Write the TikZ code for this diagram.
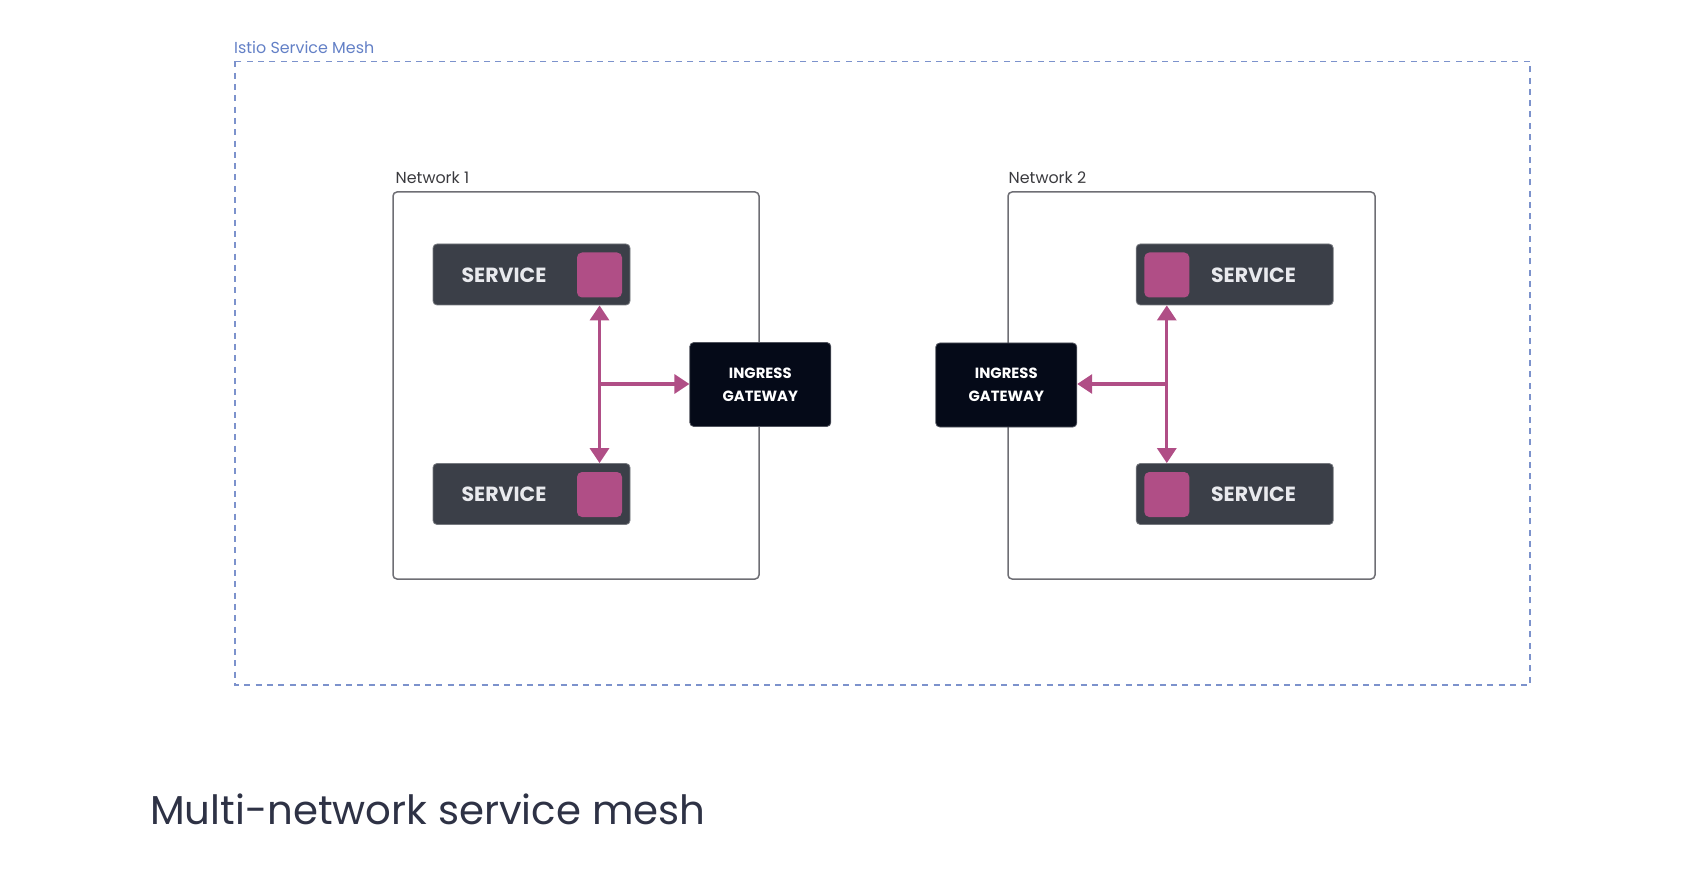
\documentclass[tikz,border=0pt]{standalone}
\usepackage{fontspec}
\setmainfont{Poppins}
\usetikzlibrary{arrows.meta}
\definecolor{meshblue}{HTML}{7C92CC}
\definecolor{meshtext}{HTML}{6380C6}
\definecolor{netgray}{HTML}{6E6E74}
\definecolor{labelgray}{HTML}{3A3A3E}
\definecolor{svcfill}{HTML}{3B3F48}
\definecolor{svctext}{HTML}{E9EAEE}
\definecolor{gwfill}{HTML}{050A18}
\definecolor{pink}{HTML}{B04E86}
\definecolor{captext}{HTML}{2E3245}
\tikzset{
  meshbox/.style={draw=meshblue, line width=1.3pt, dash pattern=on 6pt off 5.3pt},
  netbox/.style={draw=netgray, line width=1.5pt, rounded corners=4pt},
  svcbox/.style={fill=svcfill, draw=svcfill!70!white, line width=0.8pt, rounded corners=4pt, minimum width=197pt, minimum height=61pt, inner sep=0pt},
  svcsq/.style={fill=pink, rounded corners=5pt, minimum width=45pt, minimum height=45pt, inner sep=0pt},
  svclabel/.style={text=svctext, font=\fontsize{20.5}{24}\selectfont\bfseries, inner sep=0pt},
  gwbox/.style={fill=gwfill, draw=gwfill!70!white, line width=0.8pt, rounded corners=4pt, minimum width=141pt, minimum height=84pt, inner sep=0pt, text=white, align=center, font=\fontsize{14.8}{23}\selectfont\bfseries},
  grouplabel/.style={text=labelgray, font=\fontsize{15.9}{18}\selectfont, inner sep=0pt, anchor=base west},
  arr/.style={draw=pink, line width=3.2pt, -{Triangle[length=15pt,width=19pt]}}
}
\begin{document}
\begin{tikzpicture}[x=1pt,y=-1pt]
\useasboundingbox (0,0) rectangle (1708,882);
% mesh
\draw[meshbox] (235,61.5) rectangle (1530,685);
\node[text=meshtext, font=\fontsize{15.9}{18}\selectfont, inner sep=0pt, anchor=base west] (meshlabel) at (234,53.5) {Istio Service Mesh};
% networks
\draw[netbox] (393,192) rectangle (759,579);
\node[grouplabel] (net1label) at (395.5,184) {Network 1};
\draw[netbox] (1008,192) rectangle (1375,579);
\node[grouplabel] (net2label) at (1008.5,184) {Network 2};
% network 1 services
\node[svcbox] (s1) at (531.5,274.5) {};
\node[svcsq] (s1sq) at (599.5,275) {};
\node[svclabel] (s1t) at (504,275) {SERVICE};
\node[svcbox] (s2) at (531.5,494) {};
\node[svcsq] (s2sq) at (599.5,494.5) {};
\node[svclabel] (s2t) at (504,494.5) {SERVICE};
\node[gwbox] (g1) at (760.3,384.5) {INGRESS\\GATEWAY};
% network 2 services
\node[svcbox] (s3) at (1234.7,274.5) {};
\node[svcsq] (s3sq) at (1166.8,275) {};
\node[svclabel] (s3t) at (1253.5,275) {SERVICE};
\node[svcbox] (s4) at (1234.7,494) {};
\node[svcsq] (s4sq) at (1166.8,494.5) {};
\node[svclabel] (s4t) at (1253.5,494.5) {SERVICE};
\node[gwbox] (g2) at (1006.3,385) {INGRESS\\GATEWAY};
% connectors
\coordinate (j1) at (s1sq |- 0,384);
\coordinate (j2) at (s3sq |- 0,384);
\draw[arr] (j1) -- (j1 |- s1.south);
\draw[arr] (j1) -- (j1 |- s2.north);
\draw[arr] (j1) -- (g1.west |- j1);
\draw[arr] (j2) -- (j2 |- s3.south);
\draw[arr] (j2) -- (j2 |- s4.north);
\draw[arr] (j2) -- (g2.east |- j2);
% caption
\node[text=captext, font=\fontsize{40.3}{46}\selectfont, inner sep=0pt, anchor=base west] (caption) at (150,824) {Multi-network service mesh};
\end{tikzpicture}
\end{document}
